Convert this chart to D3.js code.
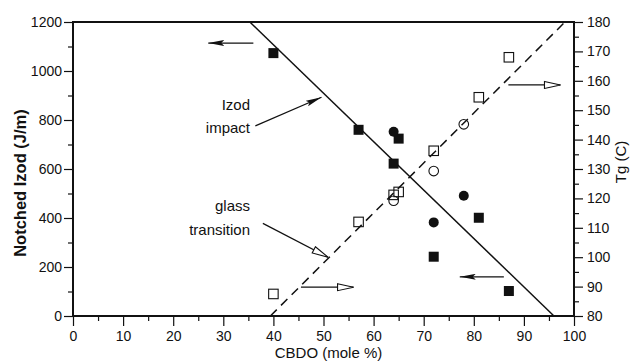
<!DOCTYPE html>
<html>
<head>
<meta charset="utf-8">
<script src="https://cdn.jsdelivr.net/npm/d3@7"></script>
<style>
  body { margin: 0; background: #fff; }
  text { font-family: "Liberation Sans", Arial, Helvetica, sans-serif; fill: #111; }
</style>
</head>
<body>
<div id="chart"></div>
<script>
// Izod impact (left axis, J/m) — filled markers
let izodSquares = [[40, 1073], [57, 760], [64, 622], [65, 724], [72, 242], [81, 401], [87, 102]];
let izodCircles = [[64, 752], [72, 382], [78, 491]];
// Glass transition (right axis, C) — open markers
let tgSquares = [[40, 87.5], [57, 112], [64, 121.2], [65, 122.2], [72, 136.2], [81, 154.4], [87, 168]];
let tgCircles = [[64, 119.2], [72, 129.3], [78, 145.2]];
// fitted lines
let izodFit = [[35.3, 1200], [96, 0]];
let tgFit = [[39.4, 80], [98.2, 180]];

let xTicks = d3.range(0, 101, 10);
let izodTicks = d3.range(0, 1201, 200);
let tgTicks = d3.range(80, 181, 10);

const width = 630, height = 362;
const margin = {top: 22, right: 56, bottom: 46, left: 73};
const w = width - margin.left - margin.right;
const h = height - margin.top - margin.bottom;

let svg = d3.select("#chart").append("svg")
    .attr("width", width)
    .attr("height", height);

let defs = svg.append("defs");
defs.append("marker")
    .attr("id", "headFilled")
    .attr("viewBox", "0 0 16 6")
    .attr("refX", 16).attr("refY", 3)
    .attr("markerWidth", 16).attr("markerHeight", 6)
    .attr("markerUnits", "userSpaceOnUse")
    .attr("orient", "auto")
    .append("path").attr("d", "M0,0 L16,3 L0,6 L3,3 Z").attr("fill", "#111");
defs.append("marker")
    .attr("id", "headOpen")
    .attr("viewBox", "-1 -1 18 9")
    .attr("refX", 16).attr("refY", 3.5)
    .attr("markerWidth", 18).attr("markerHeight", 9)
    .attr("markerUnits", "userSpaceOnUse")
    .attr("orient", "auto")
    .append("path").attr("d", "M0,0 L16,3.5 L0,7 Z")
    .attr("fill", "#fff").attr("stroke", "#111").attr("stroke-width", 1.1);

let g = svg.append("g").attr("transform", `translate(${margin.left},${margin.top})`);

let x = d3.scaleLinear().domain([0, 100]).range([0, w]);
let yL = d3.scaleLinear().domain([0, 1200]).range([h, 0]);
let yR = d3.scaleLinear().domain([80, 180]).range([h, 0]);

// minor ticks first so majors draw on top
g.append("g").attr("transform", `translate(0,${h})`)
    .call(d3.axisBottom(x).tickValues(d3.range(5, 100, 10)).tickSize(5).tickFormat(""))
    .call(a => a.select(".domain").remove());
g.append("g")
    .call(d3.axisLeft(yL).tickValues(d3.range(100, 1200, 200)).tickSize(5).tickFormat(""))
    .call(a => a.select(".domain").remove());
g.append("g").attr("transform", `translate(${w},0)`)
    .call(d3.axisRight(yR).tickValues(d3.range(85, 180, 10)).tickSize(5).tickFormat(""))
    .call(a => a.select(".domain").remove());

let fmt = d3.format("d");
g.append("g").attr("transform", `translate(0,${h})`)
    .call(d3.axisBottom(x).tickValues(xTicks).tickFormat(fmt).tickSize(10).tickPadding(5).tickSizeOuter(0));
g.append("g")
    .call(d3.axisLeft(yL).tickValues(izodTicks).tickFormat(fmt).tickSize(9).tickPadding(2).tickSizeOuter(0));
g.append("g").attr("transform", `translate(${w},0)`)
    .call(d3.axisRight(yR).tickValues(tgTicks).tickFormat(fmt).tickSize(9).tickPadding(4).tickSizeOuter(0));

g.selectAll(".tick line").attr("stroke", "#111").attr("stroke-width", 1.2);
g.selectAll(".tick text").style("font-size", "14px").attr("fill", "#111");
g.selectAll(".domain").remove();

// frame
g.append("rect")
    .attr("width", w).attr("height", h)
    .attr("fill", "none").attr("stroke", "#111").attr("stroke-width", 2);

// fitted lines
let lineL = d3.line().x(d => x(d[0])).y(d => yL(d[1]));
let lineR = d3.line().x(d => x(d[0])).y(d => yR(d[1]));
g.append("path").datum(izodFit).attr("d", lineL)
    .attr("stroke", "#111").attr("stroke-width", 1.5).attr("fill", "none");
g.append("path").datum(tgFit).attr("d", lineR)
    .attr("stroke", "#111").attr("stroke-width", 1.5).attr("fill", "none")
    .attr("stroke-dasharray", "9,6");

// markers
let sq = 10, osq = 9.5, r = 5, orad = 4.8;
g.selectAll(".izodSq").data(izodSquares).enter().append("rect")
    .attr("x", d => x(d[0]) - sq / 2).attr("y", d => yL(d[1]) - sq / 2)
    .attr("width", sq).attr("height", sq).attr("fill", "#111");
g.selectAll(".izodCi").data(izodCircles).enter().append("circle")
    .attr("cx", d => x(d[0])).attr("cy", d => yL(d[1])).attr("r", r).attr("fill", "#111");
g.selectAll(".tgSq").data(tgSquares).enter().append("rect")
    .attr("x", d => x(d[0]) - osq / 2).attr("y", d => yR(d[1]) - osq / 2)
    .attr("width", osq).attr("height", osq)
    .attr("fill", "none").attr("stroke", "#111").attr("stroke-width", 1.1);
g.selectAll(".tgCi").data(tgCircles).enter().append("circle")
    .attr("cx", d => x(d[0])).attr("cy", d => yR(d[1])).attr("r", orad)
    .attr("fill", "none").attr("stroke", "#111").attr("stroke-width", 1.1);

// axis-pointing arrows: [x1, x2, value, axis, head]
let axisArrows = [
    [36, 27, 1114, "L", "headFilled"],
    [86, 77.2, 160, "L", "headFilled"],
    [86.9, 97.3, 158.6, "R", "headOpen"],
    [45.5, 56, 89.8, "R", "headOpen"]
];
axisArrows.forEach(a => {
    let yy = a[3] === "L" ? yL(a[2]) : yR(a[2]);
    g.append("line")
        .attr("x1", x(a[0])).attr("x2", x(a[1]))
        .attr("y1", yy).attr("y2", yy)
        .attr("stroke", "#111").attr("stroke-width", 1.2)
        .attr("marker-end", `url(#${a[4]})`);
});

// label pointers (left-axis units): [x1, y1, x2, y2, head]
let pointers = [
    [36.4, 776, 49.6, 893, "headFilled"],
    [37.9, 378, 50.9, 240, "headOpen"]
];
pointers.forEach(p => {
    g.append("line")
        .attr("x1", x(p[0])).attr("y1", yL(p[1]))
        .attr("x2", x(p[2])).attr("y2", yL(p[3]))
        .attr("stroke", "#111").attr("stroke-width", 1.2)
        .attr("marker-end", `url(#${p[4]})`);
});

// annotation text
let notes = [["Izod", 110], ["impact", 133], ["glass", 211], ["transition", 235]];
notes.forEach(n => {
    svg.append("text")
        .attr("x", 250).attr("y", n[1])
        .attr("text-anchor", "end")
        .style("font-size", "15px")
        .text(n[0]);
});

// axis titles
svg.append("text")
    .attr("x", margin.left + x(51)).attr("y", 358)
    .attr("text-anchor", "middle")
    .style("font-size", "15px")
    .text("CBDO (mole %)");

svg.append("text")
    .attr("transform", `translate(26, ${margin.top + h / 2 + 14}) rotate(-90)`)
    .attr("text-anchor", "middle")
    .style("font-size", "16.5px")
    .style("font-weight", "bold")
    .text("Notched Izod (J/m)");

svg.append("text")
    .attr("transform", `translate(626, 162) rotate(-90)`)
    .attr("text-anchor", "middle")
    .style("font-size", "15px")
    .text("Tg (C)");
</script>
</body>
</html>
